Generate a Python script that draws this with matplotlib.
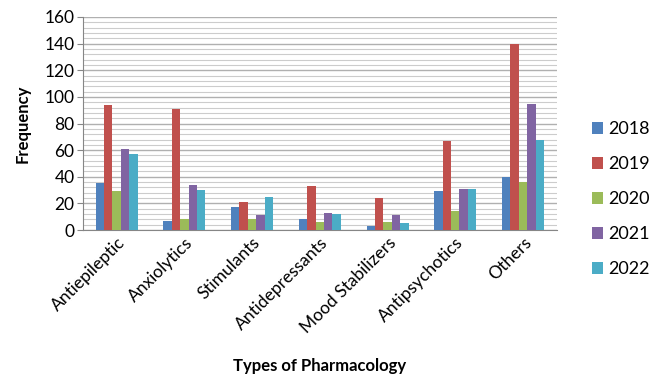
import matplotlib
matplotlib.use("Agg")
import matplotlib.pyplot as plt
import numpy as np
from matplotlib.ticker import MultipleLocator

plt.rcParams['font.family'] = ['Lato', 'DejaVu Sans']

categories = ["Antiepileptic", "Anxiolytics", "Stimulants", "Antidepressants",
              "Mood Stabilizers", "Antipsychotics", "Others"]
years = ["2018", "2019", "2020", "2021", "2022"]
v2018 = [35, 7, 17, 8, 3, 29, 40]
v2019 = [94, 91, 21, 33, 24, 67, 140]
v2020 = [29, 8, 8, 6, 6, 14, 36]
v2021 = [61, 34, 11, 13, 11, 31, 95]
v2022 = [57, 30, 25, 12, 5, 31, 68]
series = [v2018, v2019, v2020, v2021, v2022]
colors = ["#4F81BD", "#C0504D", "#9BBB59", "#8064A2", "#4BACC6"]

fig = plt.figure(figsize=(6.52, 3.76), dpi=100)
ax = fig.add_axes([0.127, 0.388, 0.727, 0.567])

x = np.arange(len(categories))
bw = 0.124
for i, (vals, c, yr) in enumerate(zip(series, colors, years)):
    ax.bar(x + (i - 2) * bw, vals, width=bw, color=c, label=yr, zorder=3)

ax.set_xlim(-0.5, len(categories) - 0.5)
ax.set_ylim(0, 160)
ax.yaxis.set_major_locator(MultipleLocator(20))
ax.yaxis.set_minor_locator(MultipleLocator(4))
ax.grid(axis='y', which='major', color='#b0b0b0', linewidth=1.0, zorder=0)
ax.grid(axis='y', which='minor', color='#cccccc', linewidth=0.8, zorder=0)
ax.set_axisbelow(True)

for s in ['top', 'right']:
    ax.spines[s].set_visible(False)
ax.spines['left'].set_color('#868686')
ax.spines['bottom'].set_color('#868686')
ax.tick_params(axis='y', which='major', length=4, color='#868686', labelsize=12.5, pad=2)
ax.tick_params(axis='y', which='minor', length=0)
ax.tick_params(axis='x', length=0, labelsize=12.5, pad=3)

ax.set_xticks(x)
ax.set_xticklabels(categories, rotation=45, ha='right', rotation_mode='anchor')

ax.set_ylabel("Frequency", fontsize=12, fontweight='bold', labelpad=10)
fig.text(0.49, 0.027, "Types of Pharmacology", ha='center', va='center',
         fontsize=12, fontweight='bold')

leg = fig.legend(loc='center left', bbox_to_anchor=(0.883, 0.47), frameon=False,
                 fontsize=13, handlelength=0.6, handleheight=0.6,
                 handletextpad=0.3, labelspacing=1.05)

fig.savefig("out.png", dpi=100)
